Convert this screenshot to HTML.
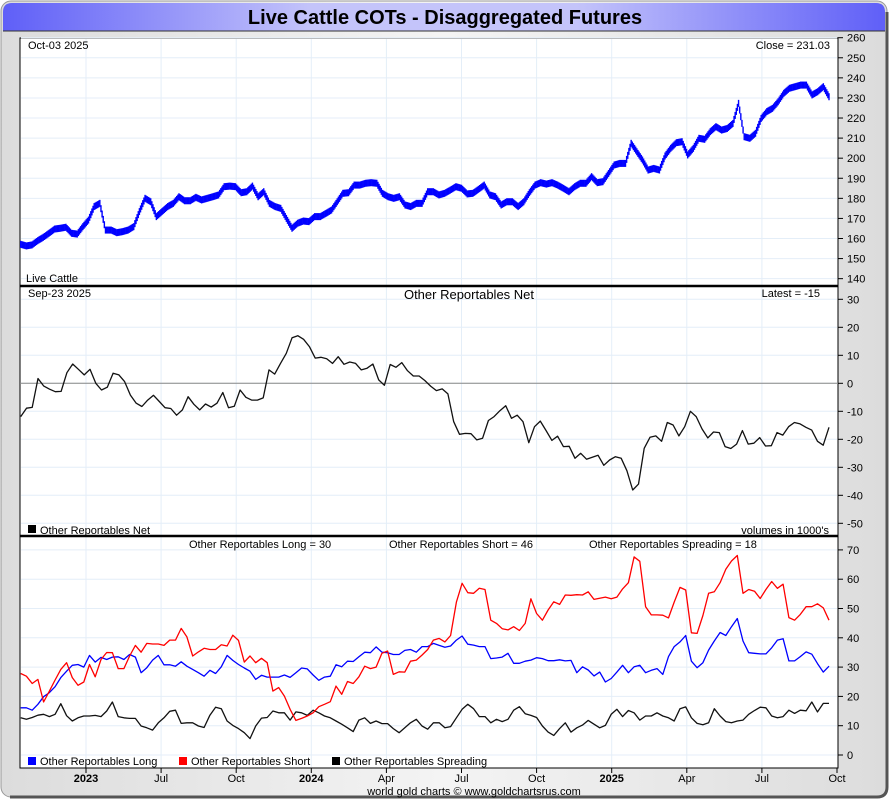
<!DOCTYPE html>
<html><head><meta charset="utf-8"><style>
body{margin:0;width:890px;height:800px;overflow:hidden;background:#fff;font-family:"Liberation Sans",sans-serif}
</style></head><body>
<svg id="c" width="890" height="800" xmlns="http://www.w3.org/2000/svg" font-family="Liberation Sans, sans-serif">
<defs>
<linearGradient id="tg" x1="0" x2="1" y1="0" y2="0"><stop offset="0" stop-color="#5f5ff8"/><stop offset="0.35" stop-color="#c4c4fa"/><stop offset="0.65" stop-color="#c4c4fa"/><stop offset="1" stop-color="#5f5ff8"/></linearGradient>
<linearGradient id="bg" x1="0" x2="1" y1="0" y2="0"><stop offset="0" stop-color="#dcdcdc"/><stop offset="0.5" stop-color="#f4f4f4"/><stop offset="1" stop-color="#dcdcdc"/></linearGradient>
</defs>
<rect x="1" y="1" width="886" height="796" rx="10" fill="url(#bg)" stroke="#999"/>
<path d="M887 12 V787 Q887 797 877 797 H10" fill="none" stroke="#555" stroke-width="3"/>
<path d="M3 31 V12 Q3 3 12 3 H876 Q885 3 885 12 V31 Z" fill="url(#tg)"/>
<line x1="3" y1="31" x2="885" y2="31" stroke="#333"/>
<text x="445" y="24" font-size="20" font-weight="bold" text-anchor="middle">Live Cattle COTs - Disaggregated Futures</text>
<rect x="20" y="38" width="818" height="730" fill="#fff" stroke="#000"/>
<g id="grid"></g>
<g id="marks"></g>
<g id="axes"></g>
<line x1="20" y1="286" x2="838" y2="286" stroke="#000" stroke-width="2.5"/>
<line x1="20" y1="536" x2="838" y2="536" stroke="#000" stroke-width="2.5"/>
<text x="28" y="49" font-size="11">Oct-03  2025</text>
<text x="830" y="49" font-size="11" text-anchor="end">Close = 231.03</text>
<text x="26" y="282" font-size="11">Live Cattle</text>
<text x="28" y="297" font-size="11">Sep-23  2025</text>
<text x="469" y="299" font-size="13" text-anchor="middle">Other Reportables Net</text>
<text x="820" y="297" font-size="11" text-anchor="end">Latest = -15</text>
<rect x="28" y="525" width="8" height="8" fill="#000"/>
<text x="40" y="534" font-size="11">Other Reportables Net</text>
<text x="829" y="534" font-size="11" text-anchor="end">volumes in 1000's</text>
<text x="189" y="548" font-size="11">Other Reportables Long = 30</text>
<text x="389" y="548" font-size="11">Other Reportables Short = 46</text>
<text x="589" y="548" font-size="11">Other Reportables Spreading = 18</text>
<g><rect x="28" y="757" width="8" height="8" fill="#00f"/><text x="40" y="765" font-size="11">Other Reportables Long</text></g>
<g><rect x="179" y="757" width="8" height="8" fill="#f00"/><text x="191" y="765" font-size="11">Other Reportables Short</text></g>
<g><rect x="332" y="757" width="8" height="8" fill="#000"/><text x="344" y="765" font-size="11">Other Reportables Spreading</text></g>
<text x="474" y="795" font-size="11" text-anchor="middle">world gold charts © www.goldchartsrus.com</text>
</svg>
<script>
const xLabels=["2023","Jul","Oct","2024","Apr","Jul","Oct","2025","Apr","Jul","Oct"];
const priceTicks=[260,250,240,230,220,210,200,190,180,170,160,150,140];
const netTicks=[30,20,10,0,-10,-20,-30,-40,-50];
const cotTicks=[70,60,50,40,30,20,10,0];
const price=[157.1,156.3,156.8,158.9,160.6,162.6,164.7,165.1,165.6,162.6,162.2,165.9,169.2,175.9,177.5,164.2,164.2,162.9,163.4,164.2,165.9,173.4,180,178.3,170.9,173.4,175.9,177.5,180.8,178.8,178.8,180.5,179.2,180,180.8,181.7,185.8,186.1,185.8,182.8,183.3,186.1,180.8,183.3,177.5,175.9,175,170,165.1,167.6,168.7,168.4,170.9,170.9,172.5,174.2,178.3,182.5,182.8,186.6,186.6,187.5,187.8,187.5,182.5,180.8,180,180.8,176.7,175.9,177.5,177.5,183.3,183.3,181.7,182.5,184.1,185.8,185,182.2,182.5,184.5,186.6,181.7,180.8,176.7,178.3,178.3,175.9,178.3,182.8,186.6,187.8,187.1,187.8,186.6,185,183.3,185.8,187.5,187.5,190.8,187.8,188.3,192.4,196.6,197.4,197.4,207.4,203.2,199.1,194.1,194.9,194.1,201.1,204.9,207.7,208.2,201.6,204.9,209.9,209.4,213.2,215.7,214,214.8,217.3,227.3,210.7,209.9,212.4,219.8,223.2,224.8,228.1,232.3,234.8,235.6,236.4,236.4,231.5,233.1,235.6,230.6];
const net=[-11.9,-8.9,-8.6,1.7,-1,-2.1,-3,-2.9,3.8,6.9,5,3,5,0,-2.4,-1.4,3.6,3,0.6,-4.2,-7.1,-8.3,-6,-4.3,-6.5,-8.7,-9,-11.4,-9.5,-4.8,-7.5,-9.5,-7.4,-8.5,-7.1,-3.3,-8.7,-8.2,-2.4,-5,-6,-6,-5.2,4.8,3.3,7.1,10.7,16.3,17,15.7,13.1,9,9.3,8.8,7.1,9.5,6.8,7.6,7.1,4.8,5.4,6.9,1.2,-0.7,6.7,5.7,7.4,4.5,2.6,2.6,1,-1,-2.6,-2,-3.8,-13.7,-18.2,-17.9,-18,-20.2,-19.6,-13.3,-11.9,-9.8,-8,-12.5,-11.4,-13.7,-21.2,-15.5,-13.5,-16.9,-20.4,-18.9,-22.6,-22.5,-26.8,-25,-27.1,-26.4,-25.7,-29.3,-27.4,-26.2,-26.8,-31.2,-38.1,-36,-23.2,-19.3,-18.8,-20.7,-14,-14.9,-18.8,-15.5,-10,-11.9,-16.3,-19.5,-17.4,-17.6,-22.6,-23.3,-21.7,-16.9,-21.7,-21.4,-19.4,-22.4,-22.3,-17.6,-18.5,-15.5,-14,-14.5,-15.7,-16.7,-20.7,-22.1,-15.7];
const longS=[16.1,16.1,15.3,17.3,19.9,21.3,23.3,26.4,28.6,30.6,30.9,30,34,31.7,33.3,32.6,33.4,33.5,32.6,34.3,33.4,28.1,29.8,32.4,34,30.8,30.8,30.3,31.8,30.3,29.2,28.1,26.9,28.9,27.8,30.1,34,32.3,30.9,29.7,28.6,25.8,27.2,26.6,26.6,26.6,27.3,26.5,28.1,29.7,29.4,27.3,25.5,26.6,26.9,30.8,30.1,32,31.9,33.5,35.1,34.9,36.9,35.1,34.9,34.3,34.3,35.7,36,35.1,37,37,38.1,37.4,36.8,37.2,39.2,40.6,37.8,37.5,37,37,32.9,33.1,33.4,34.7,31.3,31.3,32,32.4,33.2,32.9,32.2,32.2,32.5,32.1,32.3,28.1,30.1,29,27,28.3,24.9,26.1,28.3,30.6,28.1,30.1,30.6,28.1,28.9,29.5,27.5,33.6,37,38.6,40.8,32,29.8,31.5,35.8,38.9,41.8,40.8,43.8,46.6,38.9,34.9,34.7,34.5,34.5,36.6,39.2,39.7,32.1,32.1,33.6,35.2,34.4,31.2,28.3,30.3];
const shortS=[27.8,26.9,24.4,25.8,18.1,21.8,25.6,29.2,31.5,26.4,23.8,24.9,30.9,26.7,32.6,35,34.9,29.5,29.5,33.8,37.4,35.1,38.1,37.9,37.9,37.4,39.2,39.2,43.2,40.3,33.8,35.2,36.4,36,36,37.6,37.2,40.9,39.1,31.7,33.8,31.5,33,31.5,21.8,23,20.1,15.6,11.8,12.5,13.3,14.4,16.5,17.3,18.2,23.5,20.7,25.1,24.4,26.7,30.3,29.5,30,34.7,35.5,27.5,28.4,28.3,32,32.4,34.1,36,39.2,39.8,38.6,40.8,52.2,58.6,55.4,55.2,56.9,56.5,46,44.9,43.1,42.7,43.8,42.5,44.9,53.3,48.3,46,49.5,52.3,51.4,54.6,54.5,54.7,54.6,55.7,53.1,53.5,53.9,53.3,53.9,56.7,58.8,67.6,66.1,50.6,47.8,47.8,47.7,46.8,52.2,57.2,56.3,41.7,41.5,47.6,55.2,55.7,58.8,63.4,66.2,68.1,55.2,56.5,55.9,53.4,56.5,59.2,56.9,58.3,46.9,46,48,50.6,50.6,51.6,50.2,46];
const spreadS=[12.7,12.2,12.8,13.6,13.9,13.1,13.9,17.5,13.4,11.6,12.7,13.3,13.3,13.5,13.1,15,18.1,13.1,12.7,12.5,12.5,9.9,9.3,8.5,11,12.7,14.9,15.3,10.8,11,11,9.9,9.4,13.6,16.3,15.8,11.6,10.1,9,7.6,5.6,9.9,12.6,12.8,15,14.4,14.4,11.9,14.7,14.4,13.5,15.3,14.4,13.3,12.7,11.6,10.5,9.3,8,11.9,12.7,10.8,11.6,10.7,10.7,9,7.6,9.3,11,12.2,9.9,8.8,11,11,9.3,9.7,12.7,15.6,17.3,15.8,13.1,13.1,11,12.2,11.4,12.2,15.3,16.5,14.1,13.5,12.8,9.9,7.8,6.7,9,11,7.8,9.3,10.2,11.8,10.5,9.3,10.1,13.9,15.6,13.1,15.2,14.4,11.9,13.3,13.3,14.4,13.3,12.7,11.6,15.8,16.4,12.7,10.8,10.3,11,15.8,13.3,11.4,11,11.6,11.9,13.9,15.2,16.3,16.1,13.3,12.7,13.1,15.3,14.2,15.3,15.1,18.1,14.7,17.6,17.6];

const NS='http://www.w3.org/2000/svg';
const X0=20.7,X1=829;
function xIdx(i,n){return X0+i*(X1-X0)/(n-1);}
function labelX(i){return 86+i*75.1;}
function yPrice(v){return 37.7+(260-v)*2.008;}
function yNet(v){return 383.3-v*2.8;}
function yCot(v){return 755-v*2.93;}
function mk(tag,attrs,parent){const e=document.createElementNS(NS,tag);for(const k in attrs)e.setAttribute(k,attrs[k]);parent.appendChild(e);return e;}
const grid=document.getElementById('grid'),marks=document.getElementById('marks'),axes=document.getElementById('axes');
xLabels.forEach((l,i)=>{const x=labelX(i);
 if(x<837) mk('line',{x1:x,y1:39,x2:x,y2:767,stroke:'#e4eef8'},grid);
 mk('line',{x1:x,y1:768,x2:x,y2:773,stroke:'#000'},axes);
 const t=mk('text',{x:x,y:782,'font-size':11,'text-anchor':'middle','font-weight':(l.length===4?'bold':'normal')},axes);
 t.textContent=l;
 
 
});
function yAxis(ticks,fy,top,bot){ticks.forEach(v=>{const y=fy(v);if(y<top-4||y>bot+4)return;
 mk('line',{x1:21,y1:y,x2:837,y2:y,stroke:'#e4eef8'},grid);
 mk('line',{x1:838,y1:y,x2:843,y2:y,stroke:'#000'},axes);
 const t=mk('text',{x:847,y:y+4,'font-size':11},axes);t.textContent=v;
 
 
});}
yAxis(priceTicks,yPrice,38,286);yAxis(netTicks,yNet,286,536);yAxis(cotTicks,yCot,536,768);
mk('line',{x1:20,y1:yNet(0),x2:838,y2:yNet(0),stroke:'#888'},grid);
// price daily bars, interpolated between weekly readings
price.forEach((v,i)=>{
 const n=price.length,x=xIdx(i,n);
 const nv=i<n-1?price[i+1]:v;
 for(let d=0;d<5;d++){
  if(i===n-1&&d>0)break;
  const f=d/5,val=v+(nv-v)*f,xx=x+f*(X1-X0)/(n-1);
  const b=mk('rect',{x:xx-0.7,y:yPrice(val)-3.5,width:1.4,height:7,fill:'#00f'},marks);
  
  
 }
});
function line(arr,fy,color,name){const pts=arr.map((v,i)=>xIdx(i,arr.length).toFixed(1)+','+fy(v).toFixed(1)).join(' ');
 const p=mk('polyline',{points:pts,fill:'none',stroke:color,'stroke-width':1.3,'stroke-linejoin':'round'},marks);
 
 
}
line(net,yNet,'#111','net-line');
line(spreadS,yCot,'#111','spreading-line');
line(longS,yCot,'#00f','long-line');
line(shortS,yCot,'#f00','short-line');
</script>
</body></html>
